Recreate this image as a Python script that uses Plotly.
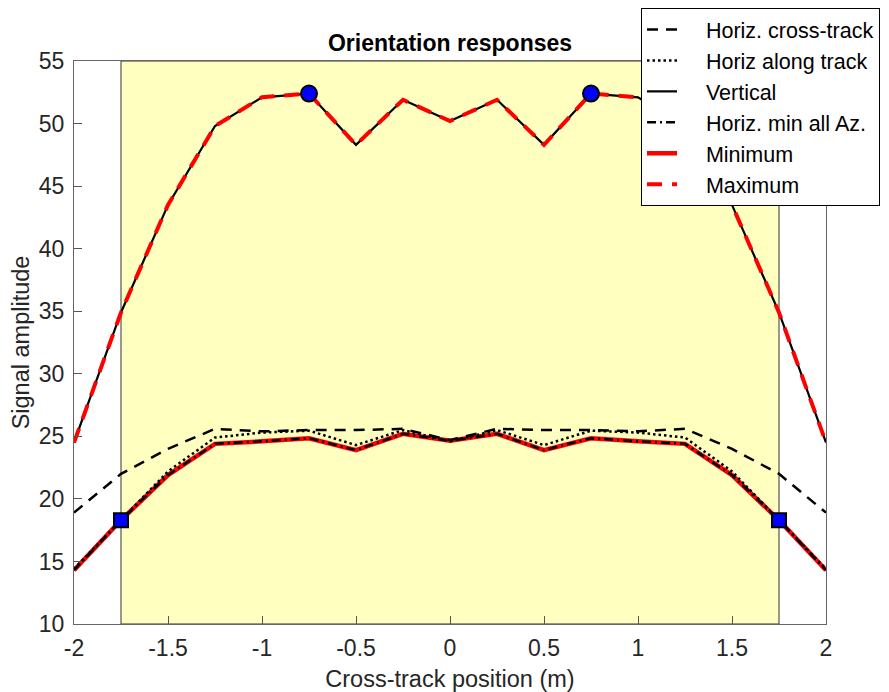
import plotly.graph_objects as go

x = [-2.0, -1.75, -1.5, -1.25, -1.0, -0.75, -0.5, -0.25, 0.0, 0.25, 0.5, 0.75, 1.0, 1.25, 1.5, 1.75, 2.0]
cross_track = [18.9, 22.0, 24.0, 25.6, 25.4, 25.5, 25.5, 25.6, 24.7, 25.6, 25.5, 25.5, 25.4, 25.6, 24.0, 22.0, 18.9]
along_track = [14.4, 18.3, 22.2, 24.9, 25.3, 25.45, 24.3, 25.5, 24.6, 25.5, 24.3, 25.45, 25.3, 24.9, 22.2, 18.3, 14.4]
vertical = [24.5, 34.9, 43.5, 49.8, 52.1, 52.4, 48.3, 51.9, 50.2, 51.9, 48.3, 52.4, 52.1, 49.8, 43.5, 34.9, 24.5]
min_all_az = [14.3, 18.3, 21.9, 24.4, 24.6, 24.85, 23.9, 25.2, 24.65, 25.2, 23.9, 24.85, 24.6, 24.4, 21.9, 18.3, 14.3]
minimum = [14.3, 18.3, 21.9, 24.4, 24.6, 24.85, 23.9, 25.2, 24.65, 25.2, 23.9, 24.85, 24.6, 24.4, 21.9, 18.3, 14.3]
maximum = [24.5, 34.9, 43.5, 49.8, 52.1, 52.4, 48.3, 51.9, 50.2, 51.9, 48.3, 52.4, 52.1, 49.8, 43.5, 34.9, 24.5]

peak_x = [-0.75, 0.75]
peak_y = [52.4, 52.4]
edge_x = [-1.75, 1.75]
edge_y = [18.3, 18.3]
region = [-1.75, 1.75]

x_ticks = [-2, -1.5, -1, -0.5, 0, 0.5, 1, 1.5, 2]
y_ticks = [10, 15, 20, 25, 30, 35, 40, 45, 50, 55]

font = "Liberation Sans, Arial, sans-serif"
W, H = 881, 684
pad = "\u00a0\u00a0\u00a0\u00a0"

fig = go.Figure()
fig.add_trace(go.Scatter(x=x, y=minimum, mode="lines", name=pad + "Minimum",
                         line=dict(color="red", width=4.5), legendrank=5))
fig.add_trace(go.Scatter(x=x, y=cross_track, mode="lines", name=pad + "Horiz. cross-track",
                         line=dict(color="black", width=2.5, dash="11px,8px"), legendrank=1))
fig.add_trace(go.Scatter(x=x, y=along_track, mode="lines", name=pad + "Horiz along track",
                         line=dict(color="black", width=2.5, dash="2.5px,3px"), legendrank=2))
fig.add_trace(go.Scatter(x=x, y=vertical, mode="lines", name=pad + "Vertical",
                         line=dict(color="black", width=2.2), legendrank=3))
fig.add_trace(go.Scatter(x=x, y=min_all_az, mode="lines", name=pad + "Horiz. min all Az.",
                         line=dict(color="black", width=2.5, dash="9px,4px,2px,4px"), legendrank=4))
fig.add_trace(go.Scatter(x=x, y=maximum, mode="lines", name=pad + "Maximum",
                         line=dict(color="red", width=4, dash="15px,10px"), legendrank=6))
fig.add_trace(go.Scatter(x=peak_x, y=peak_y, mode="markers", showlegend=False,
                         marker=dict(symbol="circle", size=16, color="blue",
                                     line=dict(color="black", width=2))))
fig.add_trace(go.Scatter(x=edge_x, y=edge_y, mode="markers", showlegend=False,
                         marker=dict(symbol="square", size=14, color="blue",
                                     line=dict(color="black", width=2))))

fig.add_shape(type="rect", xref="x", yref="y", x0=region[0], x1=region[1], y0=10, y1=55,
              fillcolor="#FFFFC0", line=dict(color="#333333", width=1), layer="below")

fig.update_layout(
    width=W, height=H,
    margin=dict(l=66, r=63, t=53, b=68, autoexpand=False),
    paper_bgcolor="white", plot_bgcolor="white",
    font=dict(family=font, size=23, color="#262626"),
    title=dict(text="<b>Orientation responses</b>", x=442 / W, xanchor="center",
               xref="container", yref="container",
               y=1 - 35 / H, yanchor="middle", font=dict(size=23, color="black")),
    legend=dict(xref="paper", yref="paper", x=(633 - 66) / 752, xanchor="left",
                y=(616 - 0) / 563, yanchor="top",
                bgcolor="white", bordercolor="black", borderwidth=1,
                font=dict(size=21.5, color="black"), tracegroupgap=0),
    showlegend=True,
)
fig.update_xaxes(range=[-2, 2], tickvals=x_ticks, ticktext=[f"{v:g}" for v in x_ticks],
                 ticks="inside", ticklen=8, tickcolor="#555", showgrid=False, zeroline=False,
                 showline=True, linecolor="#666", mirror=True, linewidth=1, automargin=False,
                 ticklabelstandoff=3,
                 title=dict(text="Cross-track position (m)", standoff=12, font=dict(size=23.5)))
fig.update_yaxes(range=[10, 55], tickvals=y_ticks,
                 ticks="inside", ticklen=8, tickcolor="#555", showgrid=False, zeroline=False,
                 showline=True, linecolor="#666", mirror=True, linewidth=1, automargin=False,
                 ticklabelstandoff=4,
                 title=dict(text="Signal amplitude", standoff=6, font=dict(size=23.5)))

fig.write_html("out.html")
